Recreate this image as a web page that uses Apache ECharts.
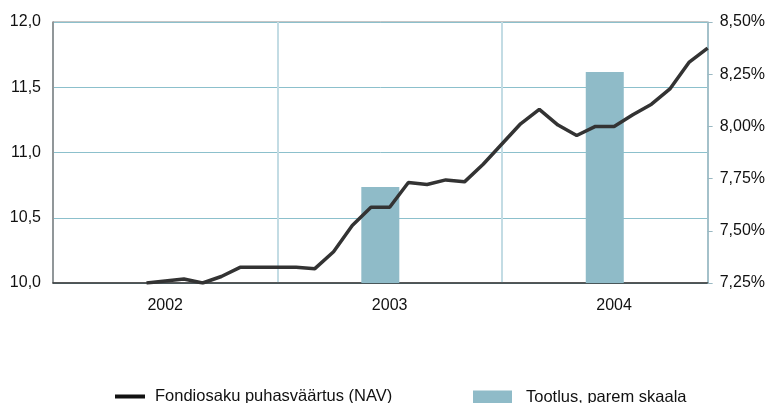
<!DOCTYPE html>
<html>
<head>
<meta charset="utf-8">
<script src="https://cdn.jsdelivr.net/npm/echarts@6/dist/echarts.min.js"></script>
<style>
html, body { margin: 0; padding: 0; background: #fff; }
#chart { width: 768px; height: 403px; }
</style>
</head>
<body>
<div id="chart"></div>
<script>
// months counted from Jan 2002 (0) to Dec 2004 (35)
var navMonths = [5, 6, 7, 8, 9, 10, 11, 12, 13, 14, 15, 16, 17, 18, 19, 20, 21, 22, 23, 24,
                 25, 26, 27, 28, 29, 30, 31, 32, 33, 34, 35];
var navValues = [10.00, 10.015, 10.03, 10.00, 10.05, 10.12, 10.12, 10.12, 10.12, 10.11, 10.24,
                 10.44, 10.58, 10.58, 10.77, 10.755, 10.79, 10.775, 10.91, 11.065, 11.22,
                 11.33, 11.21, 11.13, 11.20, 11.20, 11.29, 11.37, 11.49, 11.69, 11.80];
var yieldMonths = [17.5, 29.5];
var yieldValues = [7.71, 8.26];
var yearLabels = { 6: '2002', 18: '2003', 30: '2004' };

var navName = 'Fondiosaku puhasväärtus (NAV)';
var yieldName = 'Tootlus, parem skaala';
var font = '"Liberation Sans", Arial, sans-serif';

var chart = echarts.init(document.getElementById('chart'));

var option = {
  animation: false,
  textStyle: { fontFamily: font },
  grid: {
    left: 53, right: 59, top: 22, bottom: 120,
    show: true, borderColor: '#8a8a8a', borderWidth: 1
  },
  legend: [
    {
      left: 115, top: 388, padding: 0,
      icon: 'rect', itemWidth: 30, itemHeight: 4,
      data: [{ name: navName, itemStyle: { color: '#111' } }],
      textStyle: { fontSize: 16.5, color: '#111', fontFamily: font, padding: [0, 0, 0, 5] }
    },
    {
      left: 473, top: 389, padding: 0,
      icon: 'rect', itemWidth: 39, itemHeight: 14,
      data: [yieldName],
      textStyle: { fontSize: 16.5, color: '#111', fontFamily: font, padding: [0, 0, 0, 9] }
    }
  ],
  xAxis: [
    {
      type: 'value', min: 0, max: 35, interval: 12,
      axisLine: { show: true, onZero: false, lineStyle: { color: '#333', width: 1.5 } },
      axisTick: { show: false },
      axisLabel: { show: false },
      splitLine: { show: true, lineStyle: { color: '#c3dce4', width: 2 } }
    },
    {
      type: 'value', min: 0, max: 35, interval: 6, position: 'bottom',
      axisLine: { show: false, onZero: false },
      axisTick: { show: false },
      splitLine: { show: false },
      axisLabel: {
        margin: 15, fontSize: 16, color: '#111', fontFamily: font,
        showMinLabel: true, showMaxLabel: false,
        formatter: function (v) { return yearLabels[v] || ''; }
      }
    }
  ],
  yAxis: [
    {
      type: 'value', min: 10, max: 12, interval: 0.5, position: 'left',
      axisLine: { show: true, onZero: false, lineStyle: { color: '#808080', width: 1.5 } },
      axisTick: { show: false },
      axisLabel: {
        margin: 12, fontSize: 16, color: '#111', fontFamily: font,
        formatter: function (v) { return v.toFixed(1).replace('.', ','); }
      },
      splitLine: { show: true, lineStyle: { color: '#8cc0cc', width: 1 } }
    },
    {
      type: 'value', min: 7.25, max: 8.5, interval: 0.25, position: 'right',
      axisLine: { show: true, onZero: false, lineStyle: { color: '#9ab8c2', width: 1.5 } },
      axisTick: { show: true, inside: false, length: 5, lineStyle: { color: '#9ab8c2' } },
      axisLabel: {
        margin: 12, fontSize: 16, color: '#111', fontFamily: font,
        formatter: function (v) { return v.toFixed(2).replace('.', ',') + '%'; }
      },
      splitLine: { show: false }
    }
  ],
  series: [
    {
      name: yieldName,
      type: 'bar',
      xAxisIndex: 0, yAxisIndex: 1,
      barWidth: 38,
      itemStyle: { color: '#8fbbc8' },
      data: yieldMonths.map(function (m, i) { return [m, yieldValues[i]]; }),
      z: 2
    },
    {
      name: navName,
      type: 'line',
      xAxisIndex: 0, yAxisIndex: 0,
      showSymbol: false,
      lineStyle: { color: '#333', width: 3.5 },
      itemStyle: { color: '#333' },
      data: navMonths.map(function (m, i) { return [m, navValues[i]]; }),
      z: 3
    }
  ]
};

chart.setOption(option);
</script>
</body>
</html>
